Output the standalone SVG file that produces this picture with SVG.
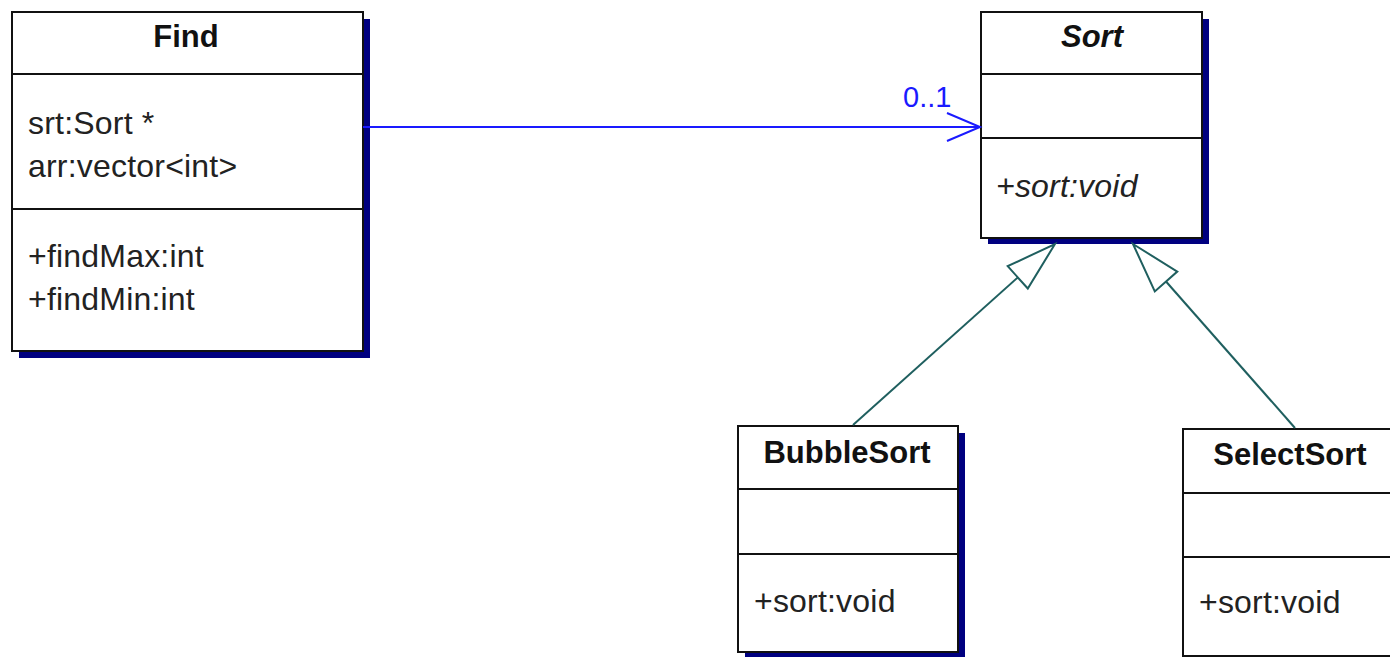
<svg xmlns="http://www.w3.org/2000/svg" width="1390" height="657" viewBox="0 0 1390 657">
  <style>
    .shadow { fill: #000080; }
    .box { fill: #ffffff; stroke: #111111; stroke-width: 2; }
    .div { stroke: #111111; stroke-width: 2; }
    .title { font-family: "Liberation Sans", Arial, sans-serif; font-size: 31px; font-weight: bold; fill: #111111; text-anchor: middle; }
    .abstract { font-style: italic; }
    .member { font-family: "Liberation Sans", Arial, sans-serif; font-size: 32px; letter-spacing: 0.2px; fill: #222222; }
    .assoc { stroke: #1a1aff; stroke-width: 2; fill: none; }
    .mult { font-family: "Liberation Sans", Arial, sans-serif; font-size: 29px; fill: #1a1aff; }
    .gen { stroke: #1f5f5f; stroke-width: 2; fill: none; }
    .genhead { stroke: #1f5f5f; stroke-width: 2; fill: #ffffff; }
  </style>

  <!-- Find class -->
  <g id="find">
    <rect class="shadow" x="19" y="19" width="351" height="339"/>
    <rect class="box" x="12" y="12" width="351" height="339"/>
    <line class="div" x1="12" y1="74" x2="363" y2="74"/>
    <line class="div" x1="12" y1="209" x2="363" y2="209"/>
    <text class="title" x="186" y="47">Find</text>
    <text class="member" x="28" y="134">srt:Sort *</text>
    <text class="member" x="28" y="177">arr:vector&lt;int&gt;</text>
    <text class="member" x="28" y="267">+findMax:int</text>
    <text class="member" x="28" y="310">+findMin:int</text>
  </g>

  <!-- Sort (abstract) class -->
  <g id="sort">
    <rect class="shadow" x="988" y="19" width="221" height="225"/>
    <rect class="box" x="981" y="12" width="221" height="226"/>
    <line class="div" x1="981" y1="74" x2="1202" y2="74"/>
    <line class="div" x1="981" y1="138" x2="1202" y2="138"/>
    <text class="title abstract" x="1092" y="47">Sort</text>
    <text class="member abstract" x="996" y="197">+sort:void</text>
  </g>

  <!-- BubbleSort class -->
  <g id="bubblesort">
    <rect class="shadow" x="745" y="433" width="220" height="226"/>
    <rect class="box" x="738" y="426" width="220" height="226"/>
    <line class="div" x1="738" y1="489" x2="958" y2="489"/>
    <line class="div" x1="738" y1="554" x2="958" y2="554"/>
    <text class="title" x="847" y="463">BubbleSort</text>
    <text class="member" x="754" y="612">+sort:void</text>
  </g>

  <!-- SelectSort class -->
  <g id="selectsort">
    <rect class="shadow" x="1190" y="436" width="220" height="227"/>
    <rect class="box" x="1183" y="429" width="220" height="227"/>
    <line class="div" x1="1183" y1="493" x2="1403" y2="493"/>
    <line class="div" x1="1183" y1="557" x2="1403" y2="557"/>
    <text class="title" x="1290" y="465">SelectSort</text>
    <text class="member" x="1199" y="613">+sort:void</text>
  </g>

  <!-- Connectors -->
  <g id="connectors">
    <!-- association Find -> Sort -->
    <line class="assoc" x1="363" y1="127" x2="980" y2="127"/>
    <polyline class="assoc" points="947,113 980,127 947,141"/>
    <text class="mult" x="903" y="107">0..1</text>

    <!-- generalization BubbleSort -> Sort -->
    <line class="gen" x1="853" y1="425" x2="1017.8" y2="277.4"/>
    <polygon class="genhead" points="1055,244 1027.8,288.5 1007.7,266.2"/>

    <!-- generalization SelectSort -> Sort -->
    <line class="gen" x1="1295" y1="428" x2="1166" y2="281.5"/>
    <polygon class="genhead" points="1133,244 1177.3,271.6 1154.8,291.4"/>
  </g>
</svg>
